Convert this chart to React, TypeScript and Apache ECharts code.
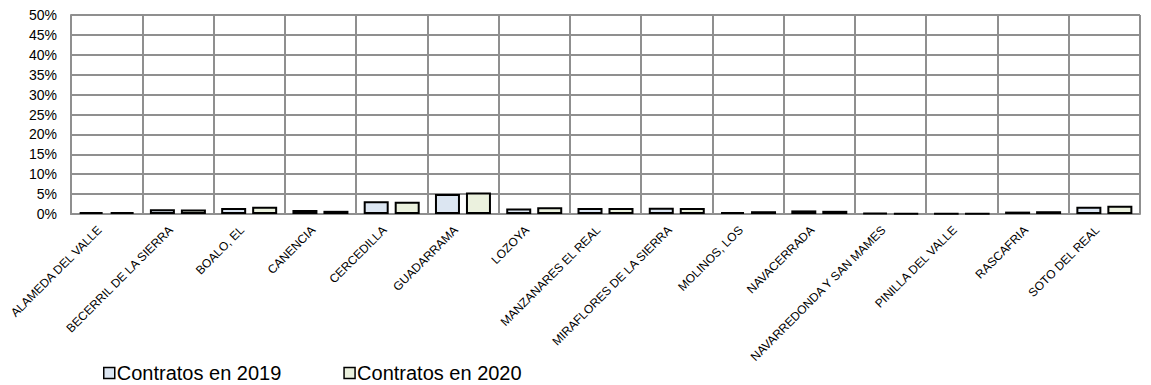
import React, { useEffect, useRef } from "react";
import * as echarts from "echarts";

const categories = [
  "ALAMEDA DEL VALLE",
  "BECERRIL DE LA SIERRA",
  "BOALO, EL",
  "CANENCIA",
  "CERCEDILLA",
  "GUADARRAMA",
  "LOZOYA",
  "MANZANARES EL REAL",
  "MIRAFLORES DE LA SIERRA",
  "MOLINOS, LOS",
  "NAVACERRADA",
  "NAVARREDONDA Y SAN MAMES",
  "PINILLA DEL VALLE",
  "RASCAFRIA",
  "SOTO DEL REAL",
];

const contratos2019 = [0.005, 0.012, 0.015, 0.01, 0.032, 0.05, 0.014, 0.015, 0.016, 0.005, 0.009, 0.003, 0.001, 0.006, 0.018];
const contratos2020 = [0.005, 0.011, 0.018, 0.008, 0.031, 0.054, 0.017, 0.015, 0.015, 0.007, 0.008, 0.0015, 0.001, 0.007, 0.021];

const seriesNames = ["Contratos en 2019", "Contratos en 2020"];

export default function App() {
  const ref = useRef<HTMLDivElement>(null);
  useEffect(() => {
    document.body.style.margin = "0";
    const chart = echarts.init(ref.current!, null, { renderer: "svg" });
    const font = "'Liberation Sans', Arial, sans-serif";
    const gridColor = "#8f8f8f";
    chart.setOption({
      animation: false,
      textStyle: { fontFamily: font },
      grid: { left: 71, right: 11, top: 15, bottom: 171, containLabel: false },
      legend: {
        left: 98,
        top: 358,
        itemWidth: 11,
        itemHeight: 11,
        itemGap: 62,
        icon: "rect",
        textStyle: { fontSize: 20, color: "#000", fontFamily: font, padding: [0, 0, 0, -3] },
        itemStyle: { borderColor: "#000", borderWidth: 1.5 },
        data: seriesNames,
      },
      xAxis: {
        type: "category",
        data: categories,
        boundaryGap: true,
        axisLine: { show: true, lineStyle: { color: gridColor, width: 2 } },
        axisTick: { show: false },
        splitLine: { show: true, interval: 0, lineStyle: { color: gridColor, width: 2 } },
        axisLabel: {
          interval: 0,
          rotate: 45,
          fontSize: 12,
          color: "#000",
          margin: 7,
          padding: [0, 10, 0, 0],
          fontFamily: font,
        },
      },
      yAxis: {
        type: "value",
        min: 0,
        max: 0.5,
        interval: 0.05,
        axisLine: { show: true, lineStyle: { color: gridColor, width: 2 } },
        axisTick: { show: false },
        splitLine: { show: true, lineStyle: { color: gridColor, width: 2 } },
        axisLabel: {
          fontSize: 14,
          color: "#000",
          margin: 14,
          fontFamily: font,
          formatter: (v: number) => `${Math.round(v * 100)}%`,
        },
      },
      series: [
        {
          name: seriesNames[0],
          type: "bar",
          data: contratos2019,
          barWidth: 25,
          barGap: "24%",
          itemStyle: { color: "#dce6f2", borderColor: "#000", borderWidth: 2 },
        },
        {
          name: seriesNames[1],
          type: "bar",
          data: contratos2020,
          barWidth: 25,
          itemStyle: { color: "#ebf1de", borderColor: "#000", borderWidth: 2 },
        },
      ],
    });
    return () => chart.dispose();
  }, []);
  return <div ref={ref} style={{ width: 1151, height: 385 }} />;
}
